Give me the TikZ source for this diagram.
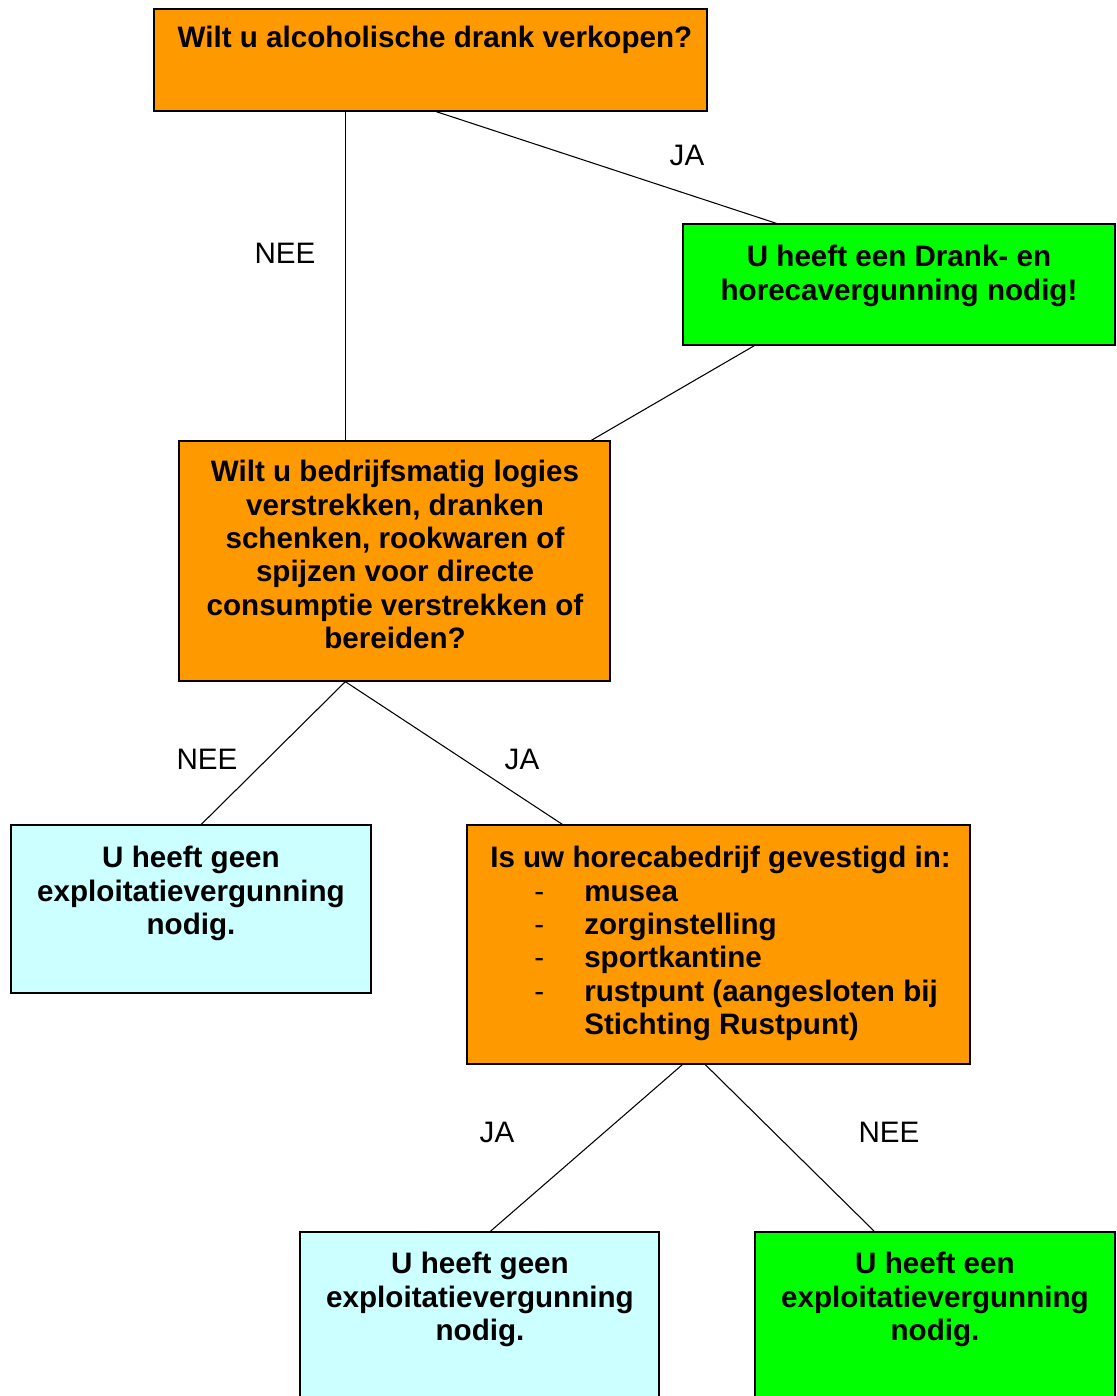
\documentclass[tikz,border=0pt]{standalone}
\usepackage{fontspec}
\setmainfont{Liberation Sans}
\usetikzlibrary{fit,calc}
\definecolor{qorange}{HTML}{FF9900}
\definecolor{qgreen}{HTML}{00FF00}
\definecolor{qcyan}{HTML}{CCFFFF}
\tikzset{
  box/.style={draw=black, line width=1pt, inner sep=0pt},
  qbox/.style={box, fill=qorange},
  gbox/.style={box, fill=qgreen},
  cbox/.style={box, fill=qcyan},
  btext/.style={anchor=north, inner sep=0pt, align=center, font=\fontsize{22.2pt}{25pt}\selectfont\bfseries},
  lbl/.style={inner sep=0pt, font=\fontsize{22.2pt}{25pt}\selectfont},
  conn/.style={draw=black, line width=0.8pt}
}
\begin{document}
\begin{tikzpicture}[x=0.75pt, y=-0.75pt]
\useasboundingbox (0,0) rectangle (1117,1396);
\clip (0,0) rectangle (1117,1396);
% boxes
\node[qbox, fit={(154,9) (707,111)}] (q1) {};
\node[gbox, fit={(683,224) (1115,345)}] (q2) {};
\node[qbox, fit={(179,441) (610,681)}] (q3) {};
\node[cbox, fit={(11,825) (371,993)}] (c1) {};
\node[qbox, fit={(467,825) (970,1064)}] (q5) {};
\node[cbox, fit={(300,1232) (659,1420)}] (c2) {};
\node[gbox, fit={(755,1232) (1115,1420)}] (g2) {};
% texts
\node[btext] (t1) at (435,26) {Wilt u alcoholische drank verkopen?};
\node[btext] (t2) at (899,245) {U heeft een Drank- en\\horecavergunning nodig!};
\node[btext] (t3) at (395,460) {Wilt u bedrijfsmatig logies\\verstrekken, dranken\\schenken, rookwaren of\\spijzen voor directe\\consumptie verstrekken of\\bereiden?};
\node[btext] (t4) at (191,846) {U heeft geen\\exploitatievergunning\\nodig.};
\node[btext, anchor=north west, align=left] (t5) at (490,846) {Is uw horecabedrijf gevestigd in:\\
\makebox[70.5pt][l]{\hspace{33pt}\mdseries -}musea\\
\makebox[70.5pt][l]{\hspace{33pt}\mdseries -}zorginstelling\\
\makebox[70.5pt][l]{\hspace{33pt}\mdseries -}sportkantine\\
\makebox[70.5pt][l]{\hspace{33pt}\mdseries -}rustpunt (aangesloten bij\\
\hspace*{70.5pt}Stichting Rustpunt)};
\node[btext] (t6) at (480,1252) {U heeft geen\\exploitatievergunning\\nodig.};
\node[btext] (t7) at (935,1252) {U heeft een\\exploitatievergunning\\nodig.};
% connectors
\draw[conn] ($(q1.south west)+(192,0)$) -- ($(q3.north west)+(167,0)$);
\draw[conn] ($(q1.south west)+(283,0)$) -- ($(q2.north west)+(94,0)$);
\draw[conn] ($(q2.south west)+(72,0)$) -- ($(q3.north west)+(413,0)$);
\draw[conn] ($(q3.south west)+(167,0)$) -- ($(c1.north west)+(191,0)$);
\draw[conn] ($(q3.south west)+(167,0)$) -- ($(q5.north west)+(96,0)$);
\draw[conn] ($(q5.south west)+(216,0)$) -- ($(c2.north west)+(191,0)$);
\draw[conn] ($(q5.south west)+(239,0)$) -- ($(g2.north west)+(120,0)$);
% labels
\node[lbl] (l1) at (285,253) {NEE};
\node[lbl] (l2) at (687,155) {JA};
\node[lbl] (l3) at (207,759) {NEE};
\node[lbl] (l4) at (522,759) {JA};
\node[lbl] (l5) at (497,1132) {JA};
\node[lbl] (l6) at (889,1132) {NEE};
\end{tikzpicture}
\end{document}
